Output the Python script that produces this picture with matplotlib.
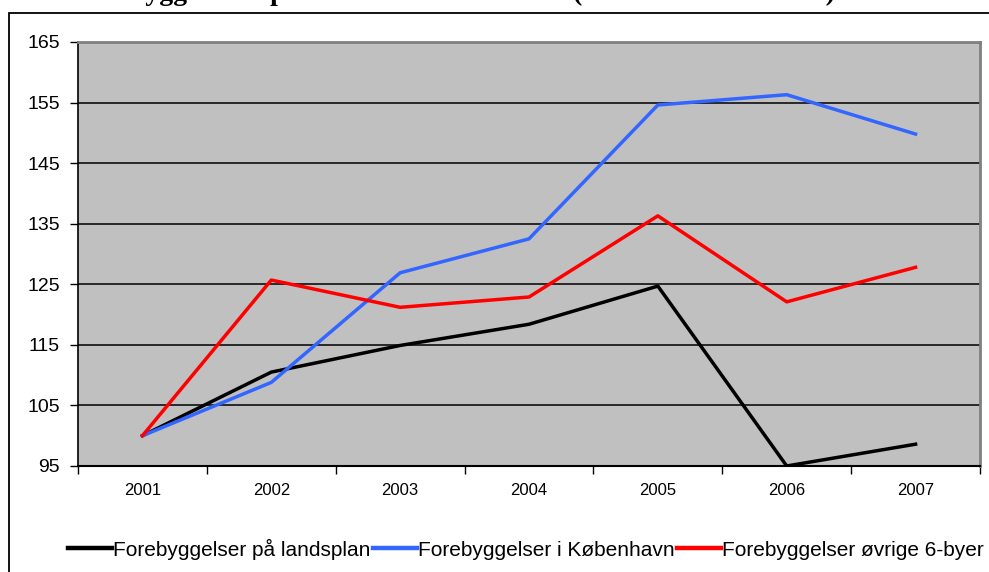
import numpy as np
import matplotlib
matplotlib.use("Agg")
import matplotlib.pyplot as plt
from matplotlib.patches import Rectangle

# data (index 2001 = 100)
years = ['2001', '2002', '2003', '2004', '2005', '2006', '2007']
landsplan = [100, 110.5, 114.9, 118.4, 124.7, 95.0, 98.6]
koebenhavn = [100, 108.8, 126.9, 132.5, 154.6, 156.3, 149.8]
oevrige = [100, 125.7, 121.2, 122.9, 136.3, 122.1, 127.8]
series_names = ['Forebyggelser på landsplan', 'Forebyggelser i København',
                'Forebyggelser øvrige 6-byer']
y_ticks = [95, 105, 115, 125, 135, 145, 155, 165]

plt.rcParams['font.family'] = ['Liberation Sans', 'DejaVu Sans']

fig = plt.figure(figsize=(9.89, 5.72), dpi=100)

# outer chart frame (right/bottom are cut off in the original)
fig.patches.append(Rectangle((8.5 / 989, -0.2), 1.2, 1.2 - 12.5 / 572,
                             transform=fig.transFigure, fill=False,
                             edgecolor='black', linewidth=1.3))

# title, mostly cut off at the top edge like in the original
fig.text(75 / 989, 1.0, 'Forebyggelser – pr. 1.000 indb. over 65 år (indeks år 2001 = 100)',
         family=['Liberation Serif', 'DejaVu Serif'], fontweight='bold',
         fontsize=20, ha='left', va='baseline')

ax = fig.add_axes([78 / 989, 1 - 466 / 572, 902 / 989, 424 / 572])
ax.set_facecolor('#C0C0C0')

x = np.arange(len(years))
ax.plot(x, landsplan, color='black', lw=2.5, label=series_names[0], zorder=3)
ax.plot(x, koebenhavn, color='#3366FF', lw=2.5, label=series_names[1], zorder=3)
ax.plot(x, oevrige, color='#FF0000', lw=2.5, label=series_names[2], zorder=3)

ax.set_xlim(-0.5, 6.5)
ax.set_ylim(95, 165)
ax.set_yticks(y_ticks)
ax.yaxis.grid(True, color='black', lw=1.1)
ax.set_axisbelow(True)

ax.set_xticks(x)
ax.set_xticklabels(years, fontsize=12)
ax.set_xticks(np.arange(-0.5, 7, 1), minor=True)
ax.tick_params(axis='x', which='major', length=0, pad=12)
ax.tick_params(axis='x', which='minor', length=6, width=1, direction='out')
ax.tick_params(axis='y', length=6, width=1, direction='out', pad=7, labelsize=14)

for side in ['top', 'right']:
    ax.spines[side].set_color('#808080')
    ax.spines[side].set_linewidth(2)
ax.spines['left'].set_linewidth(1.2)
ax.spines['bottom'].set_linewidth(1.5)

leg = fig.legend(loc='center left', bbox_to_anchor=(68 / 989, 1 - 549 / 572),
                 ncol=3, frameon=False, fontsize=15, borderpad=0, borderaxespad=0,
                 handlelength=2.1, handletextpad=0.08, columnspacing=0.1)
for line in leg.get_lines():
    line.set_linewidth(3.2)

fig.savefig('out.png', dpi=100)
